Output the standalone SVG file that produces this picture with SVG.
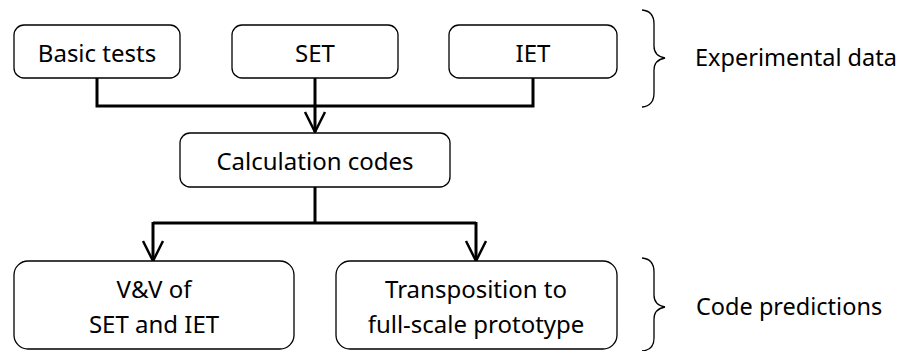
<svg xmlns="http://www.w3.org/2000/svg" width="913" height="351" viewBox="0 0 913 351">
<style>
.box{fill:#fff;stroke:#000;stroke-width:1.3}
.t{font-family:"Noto Sans","Open Sans",sans-serif;font-size:24px;fill:#000;text-anchor:middle}
.l{font-family:"Noto Sans","Open Sans",sans-serif;font-size:23.5px;fill:#000}
.c{fill:none;stroke:#000;stroke-width:3}
.br{fill:none;stroke:#000;stroke-width:1.3}
</style>
<defs>
<marker id="a" markerUnits="userSpaceOnUse" markerWidth="24" markerHeight="24" refX="21" refY="12" orient="auto" viewBox="0 0 24 24">
<path d="M1 2 L21 12 L1 22" fill="none" stroke="#000" stroke-width="2.5"/>
</marker>
</defs>
<g id="connectors">
<path class="c" d="M97 78 V106 H533 V78"/>
<path class="c" d="M315 78 V132" marker-end="url(#a)"/>
<path class="c" d="M315 187 V223"/>
<path class="c" d="M153 223 H476"/>
<path class="c" d="M153 222 V261" marker-end="url(#a)"/>
<path class="c" d="M476 222 V261" marker-end="url(#a)"/>
</g>
<g id="basic"><rect class="box" x="14" y="25" width="166" height="53" rx="10"/><text class="t" x="97" y="62">Basic tests</text></g>
<g id="set"><rect class="box" x="232" y="25" width="166" height="53" rx="10"/><text class="t" x="315" y="62">SET</text></g>
<g id="iet"><rect class="box" x="449" y="25" width="168" height="53" rx="10"/><text class="t" x="533" y="62">IET</text></g>
<g id="calc"><rect class="box" x="180" y="133" width="270" height="54" rx="10"/><text class="t" x="315" y="170">Calculation codes</text></g>
<g id="vv"><rect class="box" x="14" y="261" width="280" height="88" rx="14"/><text class="t" x="154" y="298">V&amp;V of</text><text class="t" x="154" y="333">SET and IET</text></g>
<g id="trans"><rect class="box" x="336" y="261" width="281" height="88" rx="14"/><text class="t" x="476" y="298">Transposition to</text><text class="t" x="476" y="333">full-scale prototype</text></g>
<g id="brace1"><path class="br" d="M642 10 Q654 11 654 24 V46 Q654 56 665 58 Q654 60 654 70 V93 Q654 106 642 107"/><text class="l" x="695" y="66">Experimental data</text></g>
<g id="brace2"><path class="br" d="M642 258 Q654 259 654 272 V295 Q654 305 665 307 Q654 309 654 319 V338 Q654 350 642 351"/><text class="l" x="696" y="315">Code predictions</text></g>
</svg>
